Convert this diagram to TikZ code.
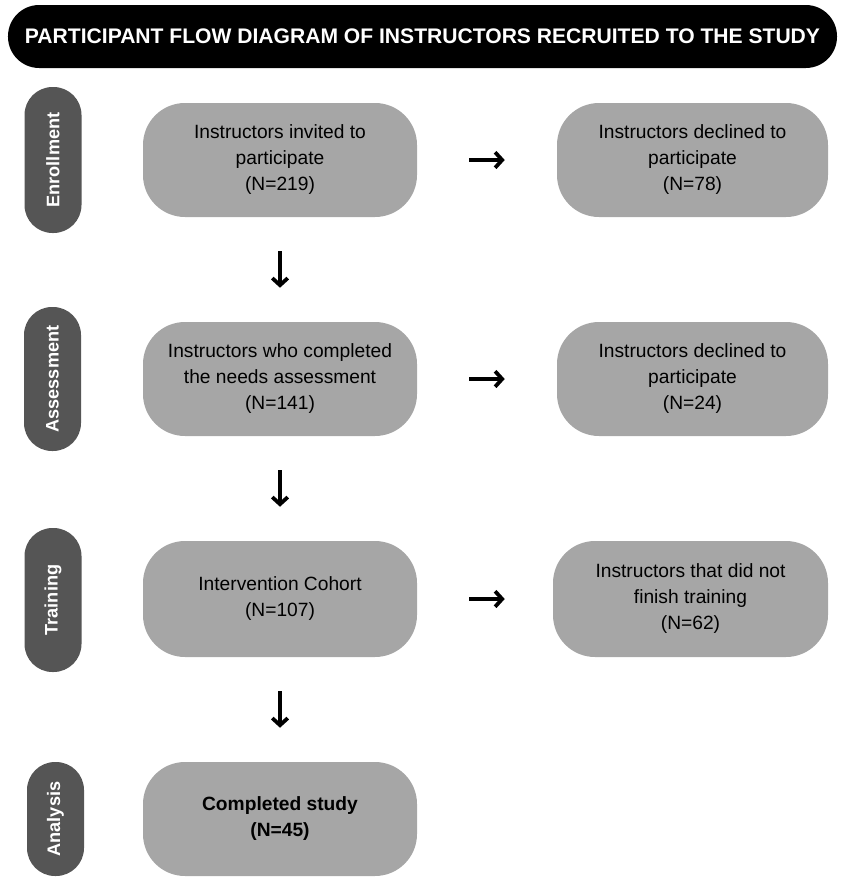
\documentclass[tikz,border=0pt]{standalone}
\usepackage{fontspec}
\setmainfont{Liberation Sans}
\usetikzlibrary{arrows.meta,positioning,calc}
\definecolor{phasegray}{RGB}{85,85,85}
\definecolor{boxgray}{RGB}{166,166,166}

\begin{document}
\begin{tikzpicture}[
  titlebar/.style={fill=black,text=white,font=\fontsize{15}{18}\selectfont\bfseries,minimum width=20.725cm,minimum height=1.575cm,rounded corners=0.78cm,inner sep=0pt},
  phase/.style={fill=phasegray,text=white,font=\fontsize{12.9}{15}\selectfont\bfseries,rotate=90,minimum height=1.425cm,rounded corners=0.7cm,inner sep=0pt},
  flowbox/.style={fill=boxgray,align=center,font=\fontsize{13.66}{18.5}\selectfont,minimum height=2.85cm,rounded corners=1.05cm,inner sep=0pt},
  flowarrow/.style={line width=2.7pt,-{Straight Barb[length=5pt,width=11pt]}}
]
\useasboundingbox (0,0) rectangle (21.05,-22.025);
\node[titlebar] (title) at (10.5625,-0.9125) {PARTICIPANT FLOW DIAGRAM OF INSTRUCTORS RECRUITED TO THE STUDY};
\foreach \nm/\lab/\x/\y/\h in {enroll/Enrollment/1.325/-4.0/3.65,assess/Assessment/1.3125/-9.475/3.6,train/Training/1.325/-15.0/3.6,analyse/Analysis/1.3875/-20.475/2.85}{
\node[phase,minimum width=\h cm] (\nm) at (\x,\y) {\lab};}
\node[flowbox,minimum width=6.85cm] (invited) at (7.0,-4.0) {Instructors invited to\\participate\\(N=219)};
\node[flowbox,minimum width=6.85cm] (assessed) at (7.0,-9.475) {Instructors who completed\\the needs assessment\\(N=141)};
\node[flowbox,minimum width=6.85cm,minimum height=2.9cm] (cohort) at (7.0,-14.975) {Intervention Cohort\\(N=107)};
\node[flowbox,minimum width=6.85cm,font=\fontsize{13.66}{18.5}\selectfont\bfseries] (completed) at (7.0,-20.475) {Completed study\\(N=45)};
\node[flowbox,minimum width=6.775cm] (declinedA) at (17.3125,-4.0) {Instructors declined to\\participate\\(N=78)};
\node[flowbox,minimum width=6.775cm] (declinedB) at (17.3125,-9.475) {Instructors declined to\\participate\\(N=24)};
\node[flowbox,minimum width=6.875cm,minimum height=2.9cm] (unfinished) at (17.2625,-14.975) {Instructors that did not\\finish training\\(N=62)};
\draw[flowarrow,shorten <=1.3cm,shorten >=1.3cm] (invited) -- (declinedA);
\draw[flowarrow,shorten <=1.3cm,shorten >=1.3cm] (assessed) -- (declinedB);
\draw[flowarrow,shorten <=1.3cm,shorten >=1.2cm] (cohort) -- (unfinished);
\draw[flowarrow,shorten <=0.85cm,shorten >=0.85cm] (invited) -- (assessed);
\draw[flowarrow,shorten <=0.85cm,shorten >=0.85cm] (assessed) -- (cohort);
\draw[flowarrow,shorten <=0.85cm,shorten >=0.85cm] (cohort) -- (completed);
\end{tikzpicture}
\end{document}
